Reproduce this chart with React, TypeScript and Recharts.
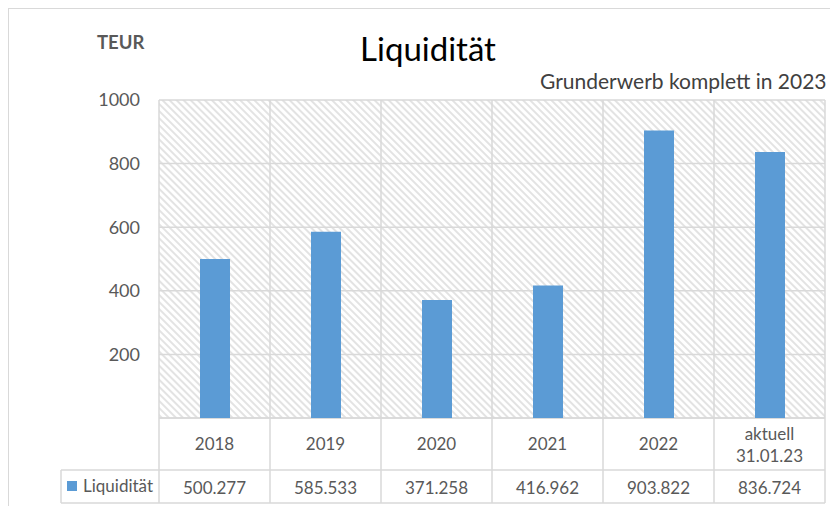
import { BarChart, Bar, XAxis, YAxis, CartesianGrid, Customized, usePlotArea } from 'recharts';

const categories = ['2018', '2019', '2020', '2021', '2022', 'aktuell\n31.01.23'];
const liquiditaet = [500.277, 585.533, 371.258, 416.962, 903.822, 836.724];
const valueLabels = ['500.277', '585.533', '371.258', '416.962', '903.822', '836.724'];
const yTicks = [0, 200, 400, 600, 800, 1000];

const data = categories.map((c, i) => ({ name: c, value: liquiditaet[i], label: valueLabels[i] }));

const GRID = '#d9d9d9';
const TEXT = '#595959';
const FONT = 'Lato, "Open Sans", sans-serif';

function DataTable() {
  const area = usePlotArea();
  if (!area) return null;
  const { x, y, width, height } = area;
  const band = width / categories.length;
  const top = y + height;
  const mid = top + 52;
  const bottom = top + 85;
  const legendLeft = x - 98;
  return (
    <g fontFamily={FONT}>
      <line x1={x} x2={x + width} y1={top} y2={top} stroke={GRID} strokeWidth={1.5} />
      <line x1={legendLeft} x2={x + width} y1={mid} y2={mid} stroke={GRID} strokeWidth={1.5} />
      <line x1={legendLeft} x2={x + width} y1={bottom} y2={bottom} stroke={GRID} strokeWidth={1.5} />
      <line x1={legendLeft} x2={legendLeft} y1={mid} y2={bottom} stroke={GRID} strokeWidth={1.5} />
      {categories.map((_, i) => (
        <line key={'v' + i} x1={x + i * band} x2={x + i * band} y1={top} y2={bottom} stroke={GRID} strokeWidth={1.5} />
      ))}
      <line x1={x + width} x2={x + width} y1={top} y2={bottom} stroke={GRID} strokeWidth={1.5} />
      {data.map((d, i) => {
        const cx = x + i * band + band / 2;
        const lines = d.name.split('\n');
        return (
          <g key={'t' + i}>
            {lines.length === 1 ? (
              <text x={cx} y={top + 32} textAnchor="middle" fontSize={17} fill={TEXT}>{lines[0]}</text>
            ) : (
              <>
                <text x={cx} y={top + 22} textAnchor="middle" fontSize={17} fill={TEXT}>{lines[0]}</text>
                <text x={cx} y={top + 44} textAnchor="middle" fontSize={17} fill={TEXT}>{lines[1]}</text>
              </>
            )}
            <text x={cx} y={mid + 24} textAnchor="middle" fontSize={17} fill={TEXT}>{d.label}</text>
          </g>
        );
      })}
      <rect x={legendLeft + 6} y={mid + 11} width={10} height={10} fill="#5b9bd5" />
      <text x={legendLeft + 22} y={mid + 22} fontSize={17} fill={TEXT}>Liquidität</text>
    </g>
  );
}

function Titles() {
  return (
    <g fontFamily={FONT}>
      <text x={88} y={40} fontSize={18.5} fontWeight="bold" fill={TEXT}>TEUR</text>
      <text x={419} y={52} textAnchor="middle" fontSize={33} fill="#000">Liquidität</text>
      <text x={531} y={80} fontSize={21} fill="#404040">Grunderwerb komplett in 2023</text>
    </g>
  );
}

export default function App() {
  return (
    <div style={{ width: 830, height: 498, overflow: 'hidden' }}>
      <svg width={0} height={0} style={{ position: 'absolute' }}>
        <defs>
          <pattern id="hatch" width={5} height={5} patternUnits="userSpaceOnUse" patternTransform="rotate(45)">
            <rect width={5} height={5} fill="#fff" />
            <line x1={0} y1={1} x2={5} y2={1} stroke="#dadada" strokeWidth={1.5} />
          </pattern>
        </defs>
      </svg>
      <div style={{ width: 840, height: 510, border: `1px solid ${GRID}`, background: '#fff' }}>
        <BarChart width={840} height={500} data={data} margin={{ top: 91, right: 24, bottom: 91, left: 90 }}>
          <CartesianGrid
            stroke={GRID}
            strokeWidth={1.5}
            fill="url(#hatch)"
            verticalCoordinatesGenerator={({ offset }: any) =>
              categories.map((_, i) => offset.left + (i * offset.width) / categories.length).concat(offset.left + offset.width)
            }
          />
          <XAxis dataKey="name" hide />
          <YAxis
            domain={[0, 1000]}
            ticks={yTicks}
            width={60}
            axisLine={false}
            tickLine={false}
            tickSize={0}
            tickMargin={19}
            tickFormatter={(v: number) => (v === 0 ? '' : String(v))}
            tick={{ fill: TEXT, fontSize: 18, fontFamily: FONT }}
          />
          <Bar dataKey="value" fill="#5b9bd5" barSize={30} isAnimationActive={false} />
          <Customized component={<DataTable />} />
          <Customized component={<Titles />} />
        </BarChart>
      </div>
    </div>
  );
}
